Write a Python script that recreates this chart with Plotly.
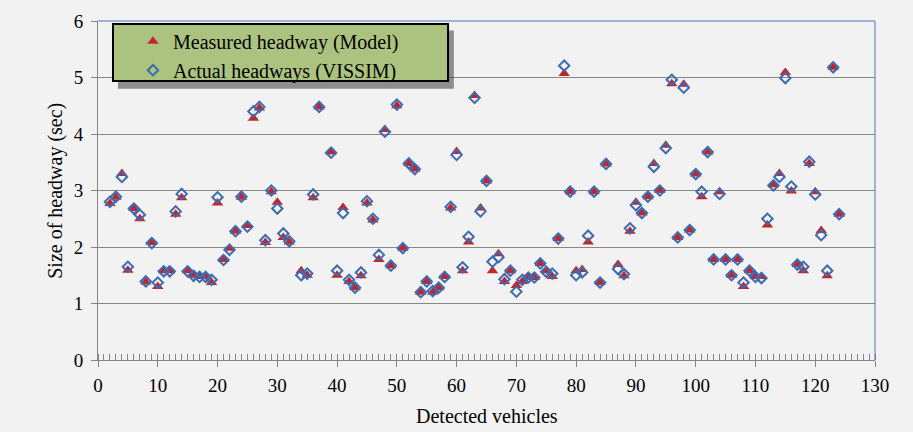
import plotly.graph_objects as go

vehicles = list(range(2, 33)) + list(range(34, 38)) + list(range(39, 86)) + list(range(87, 125))

measured_model = [
    2.77, 2.88, 3.30, 1.59, 2.68, 2.50, 1.38, 2.08, 1.30, 1.58, 1.58, 2.58, 2.87, 1.58, 1.50, 1.48,
    1.48, 1.37, 2.78, 1.78, 1.98, 2.28, 2.88, 2.38, 4.28, 4.46, 2.08, 2.98, 2.79, 2.17, 2.09,
    1.58, 1.50, 2.87, 4.48,
    3.68, 1.50, 2.70, 1.39, 1.28, 1.49, 2.78, 2.48, 1.78, 4.08, 1.67, 4.50, 1.98, 3.48, 3.38, 1.20,
    1.39, 1.20, 1.28, 1.48, 2.69, 3.69, 1.58, 2.09, 4.68, 2.69, 3.17, 1.58, 1.88, 1.39, 1.58, 1.32,
    1.39, 1.46, 1.46, 1.71, 1.58, 1.48, 2.15, 5.07, 2.98, 1.58, 1.60, 2.09, 2.98, 1.37, 3.47,
    1.69, 1.49, 2.28, 2.79, 2.60, 2.89, 3.48, 3.00, 3.80, 4.89, 2.17, 4.88, 2.30, 3.29, 2.89, 3.68,
    1.78, 2.98, 1.78, 1.50, 1.78, 1.30, 1.58, 1.48, 1.48, 2.39, 3.10, 3.30, 5.09, 2.99, 1.69, 1.58,
    3.48, 2.98, 2.29, 1.49, 5.18, 2.58,
]

actual_vissim = [
    2.80, 2.89, 3.24, 1.65, 2.68, 2.57, 1.39, 2.07, 1.37, 1.57, 1.57, 2.63, 2.94, 1.57, 1.49, 1.47,
    1.47, 1.42, 2.88, 1.77, 1.95, 2.28, 2.89, 2.36, 4.40, 4.48, 2.12, 3.00, 2.68, 2.24, 2.10,
    1.50, 1.53, 2.93, 4.48,
    3.67, 1.58, 2.60, 1.42, 1.28, 1.55, 2.81, 2.50, 1.86, 4.04, 1.67, 4.52, 1.98, 3.48, 3.38, 1.20,
    1.39, 1.22, 1.28, 1.47, 2.71, 3.63, 1.64, 2.18, 4.64, 2.63, 3.17, 1.74, 1.82, 1.43, 1.58, 1.21,
    1.42, 1.46, 1.46, 1.71, 1.56, 1.53, 2.15, 5.21, 2.98, 1.50, 1.55, 2.20, 2.98, 1.37, 3.47,
    1.61, 1.52, 2.33, 2.74, 2.60, 2.89, 3.42, 3.00, 3.75, 4.96, 2.17, 4.82, 2.30, 3.29, 2.98, 3.68,
    1.78, 2.94, 1.78, 1.50, 1.78, 1.37, 1.58, 1.47, 1.45, 2.50, 3.09, 3.24, 4.99, 3.07, 1.69, 1.65,
    3.51, 2.93, 2.21, 1.58, 5.18, 2.58,
]

x_ticks = list(range(0, 131, 10))
y_ticks = list(range(0, 7))

RED = "#C0262C"
BLUE = "#3B6CB3"
BG = "#F2F2F2"

fig = go.Figure()
fig.add_trace(go.Scatter(
    x=vehicles, y=measured_model, mode="markers", name="Measured headway (Model)",
    marker=dict(symbol="triangle-up", size=10, color=RED),
))
fig.add_trace(go.Scatter(
    x=vehicles, y=actual_vissim, mode="markers", name="Actual headways (VISSIM)",
    marker=dict(symbol="diamond-open", size=8, color=BLUE, line=dict(width=2, color=BLUE)),
))

fig.add_annotation(x=-0.055, y=0.5, xref="paper", yref="paper", showarrow=False,
                   text="Size of headway (sec)", textangle=-90, xanchor="center", yanchor="middle")
fig.add_annotation(x=0.5, y=-0.166, xref="paper", yref="paper", showarrow=False,
                   text="Detected vehicles", xanchor="center", yanchor="middle")

fig.add_shape(type="rect", xref="paper", yref="paper", x0=0.0257, x1=0.458, y0=0.800, y1=0.972,
              fillcolor="rgba(60,60,60,0.55)", line=dict(width=0), layer="above")
fig.add_shape(type="rect", xref="paper", yref="paper", x0=0.0193, x1=0.4505, y0=0.823, y1=0.991,
              fillcolor="#ABC37F", line=dict(color="black", width=2), layer="above")
fig.add_shape(type="line", xref="paper", yref="paper", x0=0, x1=1, y0=1, y1=1,
              line=dict(color="#4A78B8", width=1), layer="above")
fig.add_shape(type="line", xref="paper", yref="paper", x0=1, x1=1, y0=0, y1=1,
              line=dict(color="#4A78B8", width=1), layer="above")

fig.update_layout(
    width=913, height=432,
    margin=dict(l=98, r=38, t=21, b=72),
    paper_bgcolor=BG, plot_bgcolor=BG,
    font=dict(family="Liberation Serif", size=20, color="black"),
    showlegend=True,
    legend=dict(
        x=0.045, y=0.998, xanchor="left", yanchor="top",
        bgcolor="rgba(0,0,0,0)", borderwidth=0,
        tracegroupgap=4,
    ),
    xaxis=dict(
        range=[0, 130], tickvals=x_ticks,
        showgrid=False, zeroline=False,
        showline=True, linecolor="#868686", linewidth=1,
        ticks="outside", ticklen=6, tickcolor="#868686",
        minor=dict(dtick=1, ticks="inside", ticklen=6, tickcolor="#868686", showgrid=False),
        tickfont=dict(size=19), ticklabelstandoff=2,
    ),
    yaxis=dict(
        range=[0, 6], tickvals=y_ticks,
        showgrid=True, gridcolor="#878787", gridwidth=1, zeroline=False,
        showline=True, linecolor="#868686", linewidth=1,
        ticks="outside", ticklen=6, tickcolor="#868686",
        tickfont=dict(size=19), ticklabelstandoff=4,
    ),
)

fig.write_html("out.html")
